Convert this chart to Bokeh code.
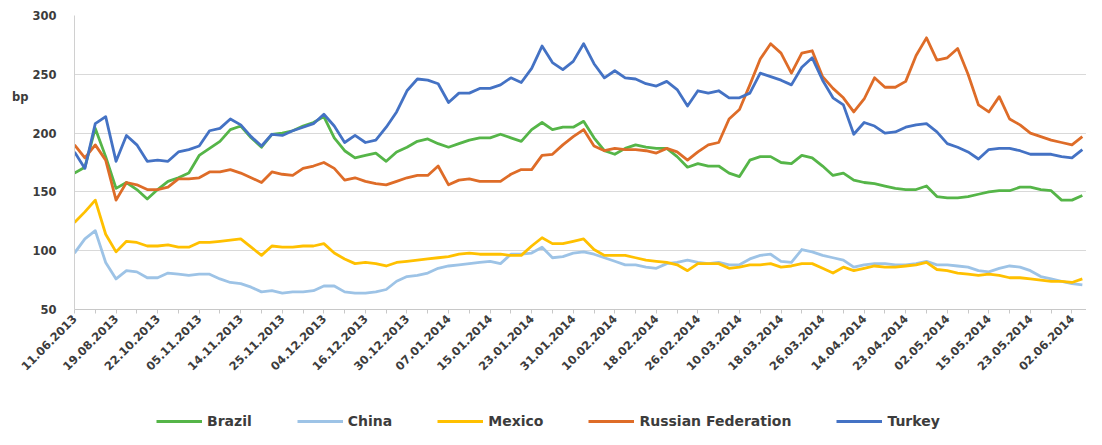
from bokeh.plotting import figure
from bokeh.models import Range1d, FixedTicker, Legend, LegendItem, LinearAxis
from bokeh.layouts import column
from bokeh.embed import file_html
from bokeh.resources import INLINE
import math

# ---------------- data ----------------
date_labels = ["11.06.2013", "19.08.2013", "22.10.2013", "05.11.2013", "14.11.2013",
               "25.11.2013", "04.12.2013", "16.12.2013", "30.12.2013", "07.01.2014",
               "15.01.2014", "23.01.2014", "31.01.2014", "10.02.2014", "18.02.2014",
               "26.02.2014", "10.03.2014", "18.03.2014", "26.03.2014", "14.04.2014",
               "23.04.2014", "02.05.2014", "15.05.2014", "23.05.2014", "02.06.2014"]

brazil = [166, 171, 204, 180, 153, 158, 152, 144, 152, 159,
          162, 166, 181, 187, 193, 203, 206, 196, 188, 199,
          200, 202, 206, 209, 214, 196, 185, 179, 181, 183,
          176, 184, 188, 193, 195, 191, 188, 191, 194, 196,
          196, 199, 196, 193, 203, 209, 203, 205, 205, 210,
          196, 185, 182, 187, 190, 188, 187, 187, 180, 171,
          174, 172, 172, 166, 163, 177, 180, 180, 175, 174,
          181, 179, 172, 164, 166, 160, 158, 157, 155, 153,
          152, 152, 155, 146, 145, 145, 146, 148, 150, 151,
          151, 154, 154, 152, 151, 143, 143, 147]

china = [98, 110, 117, 90, 76, 83, 82, 77, 77, 81,
         80, 79, 80, 80, 76, 73, 72, 69, 65, 66,
         64, 65, 65, 66, 70, 70, 65, 64, 64, 65,
         67, 74, 78, 79, 81, 85, 87, 88, 89, 90,
         91, 89, 97, 97, 98, 103, 94, 95, 98, 99,
         97, 94, 91, 88, 88, 86, 85, 89, 90, 92,
         90, 89, 90, 88, 88, 93, 96, 97, 91, 90,
         101, 99, 96, 94, 92, 86, 88, 89, 89, 88,
         88, 89, 91, 88, 88, 87, 86, 83, 82, 85,
         87, 86, 83, 78, 76, 74, 72, 71]

mexico = [124, 133, 143, 114, 99, 108, 107, 104, 104, 105,
          103, 103, 107, 107, 108, 109, 110, 103, 96, 104,
          103, 103, 104, 104, 106, 98, 93, 89, 90, 89,
          87, 90, 91, 92, 93, 94, 95, 97, 98, 97,
          97, 97, 96, 96, 104, 111, 106, 106, 108, 110,
          101, 96, 96, 96, 94, 92, 91, 90, 88, 83,
          89, 89, 89, 85, 86, 88, 88, 89, 86, 87,
          89, 89, 85, 81, 86, 83, 85, 87, 86, 86,
          87, 88, 90, 84, 83, 81, 80, 79, 80, 79,
          77, 77, 76, 75, 74, 74, 73, 76]

russia = [190, 179, 190, 177, 143, 158, 156, 152, 152, 154,
          161, 161, 162, 167, 167, 169, 166, 162, 158, 167,
          165, 164, 170, 172, 175, 170, 160, 162, 159, 157,
          156, 159, 162, 164, 164, 172, 156, 160, 161, 159,
          159, 159, 165, 169, 169, 181, 182, 190, 197, 203,
          189, 185, 187, 186, 186, 185, 183, 187, 184, 177,
          184, 190, 192, 212, 220, 241, 263, 276, 268, 251,
          268, 270, 248, 238, 230, 218, 229, 247, 239, 239,
          244, 266, 281, 262, 264, 272, 250, 224, 218, 231,
          212, 207, 200, 197, 194, 192, 190, 197]

turkey = [184, 170, 208, 214, 176, 198, 190, 176, 177, 176,
          184, 186, 189, 202, 204, 212, 207, 197, 189, 199,
          198, 202, 205, 208, 216, 206, 192, 198, 192, 194,
          205, 218, 236, 246, 245, 242, 226, 234, 234, 238,
          238, 241, 247, 243, 255, 274, 260, 254, 261, 276,
          259, 247, 253, 247, 246, 242, 240, 244, 237, 223,
          236, 234, 236, 230, 230, 234, 251, 248, 245, 241,
          256, 264, 245, 230, 224, 199, 209, 206, 200, 201,
          205, 207, 208, 201, 191, 188, 184, 178, 186, 187,
          187, 185, 182, 182, 182, 180, 179, 186]

series_names = ["Brazil", "China", "Mexico", "Russian Federation", "Turkey"]
series_values = [brazil, china, mexico, russia, turkey]
series_colors = ["#55B548", "#9DC3E6", "#FFC000", "#DE6C28", "#4472C4"]

y_ticks = [50, 100, 150, 200, 250, 300]
unit_label = "bp"
unit_label_pos = 231

points_per_label = 4
x = list(range(len(brazil)))

TXT = "#3c3c3c"
FONT = "DejaVu Sans"

# ---------------- main chart ----------------
W = 1086
H_MAIN, H_LEG = 385, 44
p = figure(width=W, height=H_MAIN, output_backend="svg", toolbar_location=None,
           x_range=Range1d(0, 97.4), y_range=Range1d(50, 300),
           min_border_left=74, min_border_right=0, min_border_top=15,
           min_border_bottom=76)
p.outline_line_color = None
p.background_fill_color = "white"
p.border_fill_color = "white"

for name, vals, col in zip(series_names, series_values, series_colors):
    p.line(x, vals, line_color=col, line_width=2.8, line_join="round")

# x axis
xax = p.xaxis[0]
major = [i * points_per_label for i in range(len(date_labels))]
minor = [m + points_per_label // 2 for m in major]
xax.ticker = FixedTicker(ticks=major, minor_ticks=minor)
xax.major_label_overrides = {t: lab for t, lab in zip(major, date_labels)}
xax.major_label_orientation = math.pi / 4
xax.axis_line_color = "#c8c8c8"
xax.major_tick_line_color = "#c8c8c8"
xax.minor_tick_line_color = "#c8c8c8"
xax.major_tick_in = 0
xax.major_tick_out = 4
xax.minor_tick_in = 0
xax.minor_tick_out = 4
xax.major_label_text_font = FONT
xax.major_label_text_font_style = "bold"
xax.major_label_text_font_size = "11.5px"
xax.major_label_text_color = TXT
xax.major_label_standoff = 3
p.xgrid.grid_line_color = None

# y axis
yax = p.yaxis[0]
yax.ticker = FixedTicker(ticks=y_ticks)
yax.axis_line_color = "#d0d0d0"
yax.major_tick_line_color = None
yax.major_tick_out = 0
yax.major_tick_in = 0
yax.minor_tick_line_color = None
yax.minor_tick_out = 0
yax.minor_tick_in = 0
yax.major_label_text_font = FONT
yax.major_label_text_font_style = "bold"
yax.major_label_text_font_size = "11.5px"
yax.major_label_text_color = TXT
yax.major_label_standoff = 18
p.ygrid.grid_line_color = "#d9d9d9"
p.ygrid.grid_line_width = 1
p.ygrid.ticker = FixedTicker(ticks=y_ticks)

# unit label as an extra left axis with a single tick
unit_axis = LinearAxis(ticker=FixedTicker(ticks=[unit_label_pos]),
                       major_label_overrides={unit_label_pos: unit_label},
                       axis_line_color=None, major_tick_line_color=None,
                       minor_tick_line_color=None, major_tick_out=0, major_tick_in=0,
                       minor_tick_out=0, minor_tick_in=0,
                       major_label_standoff=1,
                       major_label_text_font=FONT, major_label_text_font_style="bold",
                       major_label_text_font_size="11.5px", major_label_text_color=TXT)
p.add_layout(unit_axis, "left")

# ---------------- legend strip ----------------
pl = figure(width=W, height=H_LEG, output_backend="svg", toolbar_location=None,
            x_axis_type=None, y_axis_type=None,
            x_range=Range1d(0, 1), y_range=Range1d(0, 1),
            min_border_left=0, min_border_right=0, min_border_top=0,
            min_border_bottom=0)
pl.grid.grid_line_color = None
pl.outline_line_color = None
items = []
for name, vals, col in zip(series_names, series_values, series_colors):
    # same series, outside this strip's visible range: only the legend swatch shows
    r = pl.line(x, vals, line_color=col, line_width=2.8)
    items.append(LegendItem(label=name, renderers=[r]))
legend = Legend(items=items, orientation="horizontal", location=(82, 0),
                glyph_width=46, glyph_height=14, label_standoff=5, spacing=45,
                padding=0, margin=0, border_line_color=None,
                background_fill_alpha=0,
                label_text_font=FONT, label_text_font_style="bold",
                label_text_font_size="14px", label_text_color=TXT)
pl.add_layout(legend)

layout = column(p, pl, spacing=0)
open("out.html", "w").write(file_html(layout, INLINE))
